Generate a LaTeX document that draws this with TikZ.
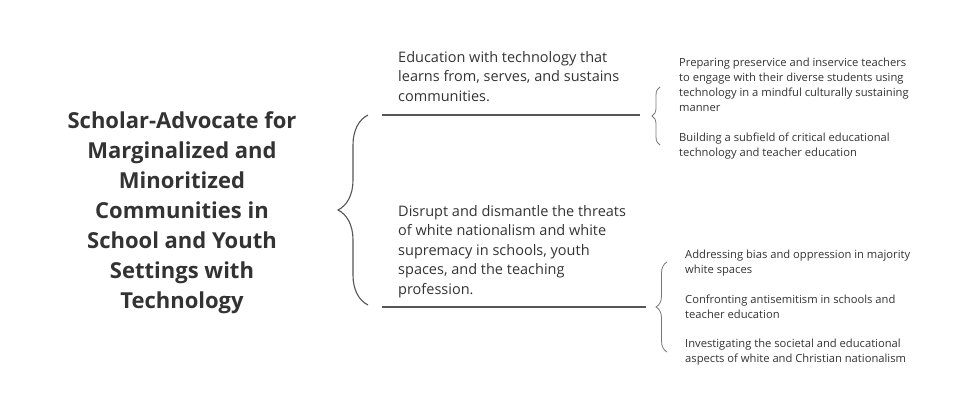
\documentclass[tikz,border=0pt]{standalone}
\usepackage{fontspec}
\setmainfont{Open Sans}
\usetikzlibrary{decorations.pathreplacing}
\definecolor{inkgray}{HTML}{333333}
\definecolor{rulegray}{HTML}{555555}
\definecolor{bracegray}{HTML}{777777}
\tikzset{
	title/.style = {align=center, inner sep=0pt, text=inkgray,
		font=\fontsize{22}{30}\selectfont\bfseries},
	goal/.style = {align=left, inner sep=0pt, anchor=north west, text=inkgray,
		font=\fontsize{14.5}{19.5}\selectfont},
	item/.style = {align=left, inner sep=0pt, anchor=north west, text=inkgray,
		font=\fontsize{11.2}{15}\selectfont},
	bigbrace/.style = {draw=rulegray, line width=1.1pt,
		decorate, decoration={brace, amplitude=30pt}},
	smallbrace/.style = {draw=bracegray, line width=0.8pt,
		decorate, decoration={brace, amplitude=#1}},
	rule/.style = {draw=rulegray, line width=1.1pt}
}
\begin{document}
\begin{tikzpicture}[x = 1pt, y = -1pt]
	\useasboundingbox (0,0) rectangle (960,412);
	
	\node[title] (scholar) at (182,213) {Scholar-Advocate for\\Marginalized and\\Minoritized\\Communities in\\School and Youth\\Settings with\\Technology};
	
	% goals
	\node[goal] (edu) at (398,51) {Education with technology that\\learns from, serves, and sustains\\communities.};
	\node[goal] (disrupt) at (398,205) {Disrupt and dismantle the threats\\of white nationalism and white\\supremacy in schools, youth\\spaces, and the teaching\\profession.};
	
	\coordinate (edu w) at (382,115);
	\coordinate (edu e) at (640,115);
	\coordinate (disrupt w) at (382,307);
	\coordinate (disrupt e) at (646,307);
	\draw[rule] (edu w) -- (edu e);
	\draw[rule] (disrupt w) -- (disrupt e);
	
	\coordinate (big s) at (368,305);
	\coordinate (big n) at (368,115);
	\draw[bigbrace] (big s) -- (big n);
	
	% items
	\node[item] (prep) at (679,58) {Preparing preservice and inservice teachers\\to engage with their diverse students using\\technology in a mindful culturally sustaining\\manner};
	\node[item] (build) at (679,133) {Building a subfield of critical educational\\technology and teacher education};
	
	\node[item] (bias) at (685,250) {Addressing bias and oppression in majority\\white spaces};
	\node[item] (anti) at (685,295) {Confronting antisemitism in schools and\\teacher education};
	\node[item] (invest) at (685,339) {Investigating the societal and educational\\aspects of white and Christian nationalism};
	
	\coordinate (up s) at (660,145);
	\coordinate (up n) at (660,87);
	\coordinate (low s) at (667,352);
	\coordinate (low n) at (667,262);
	\draw[smallbrace=8pt] (up s) -- (up n);
	\draw[smallbrace=11pt] (low s) -- (low n);
\end{tikzpicture}
\end{document}
